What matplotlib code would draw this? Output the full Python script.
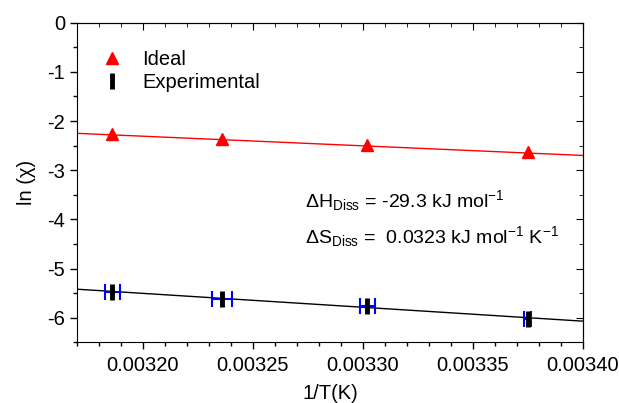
import matplotlib
matplotlib.use("Agg")
import matplotlib.pyplot as plt
from matplotlib.ticker import MultipleLocator, FormatStrFormatter

plt.rcParams["font.family"] = ["Liberation Sans", "DejaVu Sans"]
plt.rcParams["mathtext.fontset"] = "custom"
plt.rcParams["mathtext.rm"] = "Liberation Sans"
plt.rcParams["mathtext.it"] = "Liberation Sans:italic"
plt.rcParams["axes.unicode_minus"] = False

# inverse temperature (1/K)
inv_t = [0.003186, 0.003236, 0.003302, 0.003375]
ideal = [-2.26, -2.36, -2.49, -2.63]
experimental = [-5.48, -5.62, -5.77, -6.02]
exp_xerr = [0.0000034, 0.0000045, 0.0000034, 0.0000016]

# fitted lines (end points)
fit_x = [0.00317, 0.00340]
ideal_fit = [-2.25, -2.70]
exp_fit = [-5.42, -6.07]

fig = plt.figure(figsize=(6.19, 4.03), dpi=100)
ax = fig.add_axes([0.1244, 0.1506, 0.8174, 0.7931])

ax.plot(fit_x, ideal_fit, color="red", linewidth=1)
ax.plot(fit_x, exp_fit, color="black", linewidth=1)

ax.plot(inv_t, ideal, linestyle="none", marker="^", color="red", markersize=8, label="Ideal")
ax.errorbar(inv_t, experimental, xerr=exp_xerr, fmt="none", ecolor="blue",
            elinewidth=1.5, capsize=6, capthick=1.5)
ax.plot(inv_t, experimental, linestyle="none", marker="|", color="black",
        markersize=11, markeredgewidth=3.5, label="Experimental")

ax.set_xlim(0.00317, 0.00340)
ax.set_ylim(-6.5, 0)
ax.xaxis.set_major_locator(MultipleLocator(0.00005))
ax.xaxis.set_minor_locator(MultipleLocator(0.00001))
ax.xaxis.set_major_formatter(FormatStrFormatter("%.5f"))
ax.yaxis.set_major_locator(MultipleLocator(1))
ax.yaxis.set_minor_locator(MultipleLocator(0.5))
ax.tick_params(which="major", direction="out", length=5, width=1, labelsize=14.5)
ax.tick_params(which="minor", direction="out", length=3, width=1)
ax.tick_params(axis="x", pad=5)

top = ax.secondary_xaxis("top")
top.xaxis.set_major_locator(MultipleLocator(0.00005))
top.xaxis.set_minor_locator(MultipleLocator(0.00001))
top.tick_params(which="major", direction="in", length=5, labeltop=False)
top.tick_params(which="minor", direction="in", length=3)
right = ax.secondary_yaxis("right")
right.yaxis.set_major_locator(MultipleLocator(1))
right.yaxis.set_minor_locator(MultipleLocator(0.5))
right.tick_params(which="major", direction="in", length=5, labelright=False)
right.tick_params(which="minor", direction="in", length=3)

ax.set_xlabel("1/T(K)", fontsize=14.5, labelpad=6)
ax.set_ylabel("ln (\u03c7)", fontsize=14.5, labelpad=8)

ax.legend(loc="upper left", frameon=False, fontsize=14.5, handletextpad=0.5,
          borderaxespad=0, bbox_to_anchor=(0.014, 0.94), labelspacing=0.2)

ax.text(0.0032736, -3.62, r"$\Delta$H$_{\mathrm{Diss}}$ = -29.3 kJ mol$^{\mathrm{-1}}$",
        fontsize=14, va="center")
ax.text(0.0032736, -4.35, r"$\Delta$S$_{\mathrm{Diss}}$ =  0.0323 kJ mol$^{\mathrm{-1}}$ K$^{\mathrm{-1}}$",
        fontsize=14, va="center")

fig.savefig("out.png", dpi=100)
